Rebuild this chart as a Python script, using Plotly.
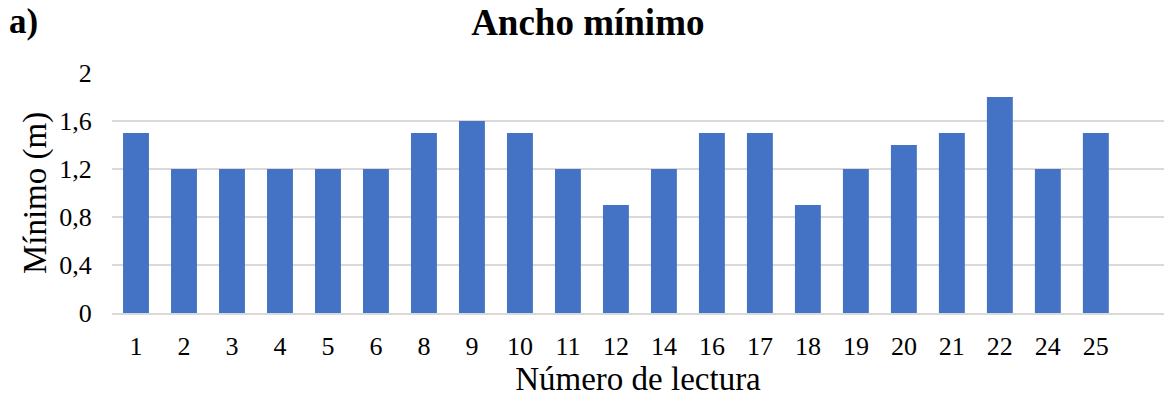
import plotly.graph_objects as go

# Reading numbers and minimum width (m)
lecturas = ["1", "2", "3", "4", "5", "6", "8", "9", "10", "11", "12",
            "14", "16", "17", "18", "19", "20", "21", "22", "24", "25"]
minimo = [1.5, 1.2, 1.2, 1.2, 1.2, 1.2, 1.5, 1.6, 1.5, 1.2, 0.9,
          1.2, 1.5, 1.5, 0.9, 1.2, 1.4, 1.5, 1.8, 1.2, 1.5]
y_ticks = [0, 0.4, 0.8, 1.2, 1.6, 2]
y_tick_text = ["0", "0,4", "0,8", "1,2", "1,6", "2"]

FONT = "Liberation Serif, Times New Roman, serif"
BAR = "#4472C4"
GRID = "#d9d9d9"

fig = go.Figure(
    go.Bar(
        x=lecturas,
        y=minimo,
        marker=dict(color=BAR, line=dict(width=0)),
        width=0.54,
        hoverinfo="x+y",
    )
)

fig.update_layout(
    width=1164,
    height=405,
    margin=dict(l=112, r=0, t=73, b=92),
    paper_bgcolor="white",
    plot_bgcolor="white",
    font=dict(family=FONT, color="black", size=26),
    showlegend=False,
    title=dict(
        text="<b>Ancho mínimo</b>",
        x=0.505,
        xanchor="center",
        y=0.945,
        yanchor="middle",
        font=dict(family=FONT, size=37, color="black"),
    ),
    annotations=[
        dict(
            text="<b>a)</b>",
            xref="paper",
            yref="paper",
            x=-0.1,
            y=1.215,
            xanchor="left",
            yanchor="middle",
            showarrow=False,
            font=dict(family=FONT, size=35, color="black"),
        )
    ],
)

fig.update_xaxes(
    type="category",
    range=[-0.5, 21.42],
    showgrid=False,
    showline=True,
    linecolor=GRID,
    linewidth=2,
    ticks="outside",
    ticklen=9,
    tickcolor="rgba(0,0,0,0)",
    tickfont=dict(family=FONT, size=26),
    title=dict(text="Número de lectura", font=dict(family=FONT, size=33), standoff=4),
    fixedrange=True,
)

fig.update_yaxes(
    range=[0, 2],
    tickvals=y_ticks,
    ticktext=y_tick_text,
    showgrid=True,
    gridcolor=GRID,
    gridwidth=2,
    zeroline=False,
    showline=False,
    ticks="outside",
    ticklen=14,
    tickcolor="rgba(0,0,0,0)",
    tickfont=dict(family=FONT, size=26),
    title=dict(text="Mínimo (m)", font=dict(family=FONT, size=33), standoff=2),
    fixedrange=True,
)

fig.write_html("out.html")
